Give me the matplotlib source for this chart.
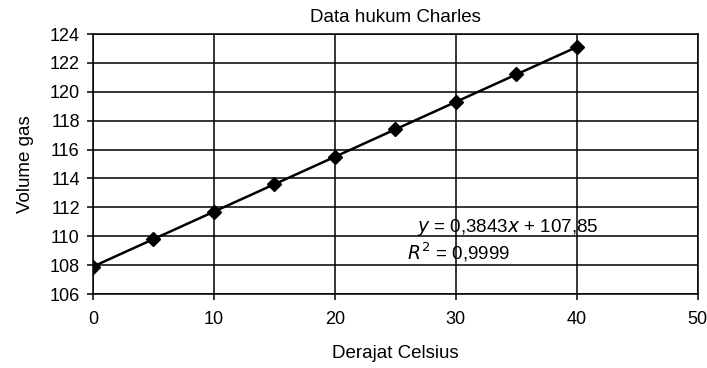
import matplotlib
matplotlib.use("Agg")
import matplotlib.pyplot as plt

# data dari grafik
suhu = [0, 5, 10, 15, 20, 25, 30, 35, 40]
volume = [107.9, 109.8, 111.7, 113.6, 115.5, 117.4, 119.3, 121.2, 123.1]
x_ticks = [0, 10, 20, 30, 40, 50]
y_ticks = [106, 108, 110, 112, 114, 116, 118, 120, 122, 124]

plt.rcParams['font.family'] = ['Liberation Sans', 'DejaVu Sans']

fig = plt.figure(figsize=(7.07, 3.68), dpi=100)
ax = fig.add_axes([0.1315, 0.201, 0.8555, 0.7066])

ax.plot(suhu, volume, color='black', lw=1.8, marker='D', ms=7, mfc='black', mec='black', zorder=3)

ax.set_xlim(0, 50)
ax.set_ylim(106, 124)
ax.set_xticks(x_ticks)
ax.set_yticks(y_ticks)
ax.grid(True, color='black', lw=1.1)
for s in ax.spines.values():
    s.set_color('black')
    s.set_linewidth(1.1)
ax.tick_params(axis='both', direction='out', length=4.5, width=1.1, labelsize=13, colors='black')
ax.tick_params(axis='x', pad=8)
ax.tick_params(axis='y', pad=5)

ax.set_title('Data hukum Charles', fontsize=13.5, pad=9)
ax.set_xlabel('Derajat Celsius', fontsize=13.5, labelpad=12)
ax.set_ylabel('Volume gas', fontsize=13.5, labelpad=11)

ax.text(34.3, 110.6, r'$\it{y}$ = 0,3843$\it{x}$ + 107,85', fontsize=13.5, ha='center', va='center')
ax.text(30.2, 108.9, r'$\it{R}^2$ = 0,9999', fontsize=13.5, ha='center', va='center')

fig.savefig('out.png', dpi=100)
